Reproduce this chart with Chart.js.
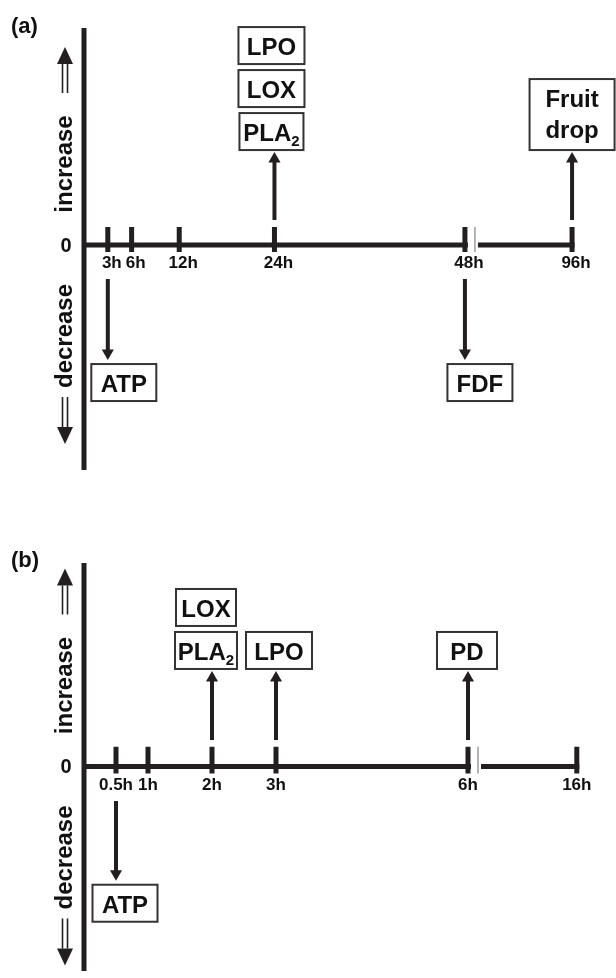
<!DOCTYPE html>
<html lang="en">
<head>
<meta charset="UTF-8">
<title>Time course of increases and decreases</title>
<script src="https://cdn.jsdelivr.net/npm/chart.js@4"></script>
<style>
    body {
        margin: 0;
        background: #fff;
        width: 616px;
        height: 978px;
        overflow: hidden;
        position: relative;
    }
    .panel {
        position: absolute;
        left: 0;
        width: 616px;
        height: 489px;
    }
    #panelA { top: 0; }
    #panelB { top: 489px; }
</style>
</head>
<body>
<div class="panel" id="panelA"><canvas id="chartA" width="616" height="489"></canvas></div>
<div class="panel" id="panelB"><canvas id="chartB" width="616" height="489"></canvas></div>

<script>
// ---- panel (a) ----
const ticksA = [3, 6, 12, 24, 48, 96];
const tickLabelsA = ['3h', '6h', '12h', '24h', '48h', '96h'];
const eventTimesA = [3, 24, 48, 96];
const eventDirA = [-1, 1, -1, 1];   // -1 = decrease, 1 = increase
const eventLabelsA = [['ATP'], ['PLA₂', 'LOX', 'LPO'], ['FDF'], ['Fruit\ndrop']];

// ---- panel (b) ----
const ticksB = [0.5, 1, 2, 3, 6, 16];
const tickLabelsB = ['0.5h', '1h', '2h', '3h', '6h', '16h'];
const eventTimesB = [0.5, 2, 3, 6];
const eventDirB = [-1, 1, 1, 1];
const eventLabelsB = [['ATP'], ['PLA₂', 'LOX'], ['LPO'], ['PD']];

// layout of each panel (axis break, arrow lengths, box placement)
const layoutA = {
    letter: '(a)', letterY: 27,
    breakAt: 48, afterBreak: 0.28125,
    xMax: 62.5, yMin: -1.037, yMax: 1, padTop: 28, padBottom: 19,
    tickLo: -0.032, tickHi: 0.083,
    upFrom: 0.115, upTo: 0.396, downFrom: 0.157, downTo: 0.498,
    labelDx: 4, labelDy: 18,
    boxShift: [16, -3, 15, 0],
    boxWidth: [[65], [64, 66, 66], [65], [85]]
};
const layoutB = {
    letter: '(b)', letterY: 72,
    breakAt: 6, afterBreak: 0.17,
    xMax: 7.75, yMin: -1.005, yMax: 1, padTop: 74, padBottom: 0,
    tickLo: -0.034, tickHi: 0.097,
    upFrom: 0.13, upTo: 0.435, downFrom: 0.169, downTo: 0.527,
    labelDx: 0, labelDy: 19,
    boxShift: [9, -6, 3, -1],
    boxWidth: [[65], [62, 60], [66], [60]]
};

const ink = '#231f20';
const fontFamily = '"Liberation Sans", Arial, Helvetica, sans-serif';

function axisPos(h, L) {
    return h <= L.breakAt ? h : L.breakAt + (h - L.breakAt) * L.afterBreak;
}

function drawLabelText(ctx, text, cx, baseline) {
    if (text.includes('₂')) {
        const main = text.replace('₂', '');
        ctx.font = 'bold 24px ' + fontFamily;
        const mw = ctx.measureText(main).width;
        ctx.font = 'bold 15px ' + fontFamily;
        const sw = ctx.measureText('2').width;
        const x = cx - (mw + sw) / 2;
        ctx.textAlign = 'left';
        ctx.font = 'bold 24px ' + fontFamily;
        ctx.fillText(main, x, baseline);
        ctx.font = 'bold 15px ' + fontFamily;
        ctx.fillText('2', x + mw, baseline + 5);
    } else {
        ctx.font = 'bold 24px ' + fontFamily;
        ctx.textAlign = 'center';
        ctx.fillText(text, cx, baseline);
    }
}

function drawBox(ctx, cx, top, w, label) {
    const lines = label.split('\n');
    const h = 37 + 34 * (lines.length - 1);
    ctx.fillStyle = '#fff';
    ctx.fillRect(cx - w / 2, top, w, h);
    ctx.strokeStyle = '#333';
    ctx.lineWidth = 2;
    ctx.strokeRect(cx - w / 2, top, w, h);
    ctx.fillStyle = '#111';
    ctx.textBaseline = 'alphabetic';
    lines.forEach((ln, k) => drawLabelText(ctx, ln, cx, top + 28 + 31 * k));
    return h;
}

function doubleArrow(ctx, x, shaftEnd, headBase, tip) {
    ctx.strokeStyle = ink;
    ctx.lineWidth = 1.6;
    [-2.5, 2.5].forEach(dx => {
        ctx.beginPath();
        ctx.moveTo(x + dx, shaftEnd);
        ctx.lineTo(x + dx, headBase);
        ctx.stroke();
    });
    ctx.fillStyle = ink;
    ctx.beginPath();
    ctx.moveTo(x - 8, headBase);
    ctx.lineTo(x + 8, headBase);
    ctx.lineTo(x, tip);
    ctx.closePath();
    ctx.fill();
}

function buildPanel(canvasId, ticks, tickLabels, times, dirs, labels, L) {
    const unit = 496 / L.xMax; // pixels per axis unit
    const datasets = [];
    const lineBase = { pointRadius: 0, fill: false, clip: false, borderCapStyle: 'butt', spanGaps: false };

    // vertical axis
    datasets.push(Object.assign({}, lineBase, {
        data: [{ x: 0, y: L.yMin }, { x: 0, y: L.yMax }],
        borderColor: ink, borderWidth: 5
    }));

    // horizontal time axis with a break
    const bx = axisPos(L.breakAt, L);
    const lastX = axisPos(ticks[ticks.length - 1], L);
    datasets.push(Object.assign({}, lineBase, {
        data: [
            { x: 0, y: 0 }, { x: bx + 3 / unit, y: 0 },
            { x: bx + 8 / unit, y: null },
            { x: bx + 13 / unit, y: 0 }, { x: lastX + 2.5 / unit, y: 0 }
        ],
        borderColor: ink, borderWidth: 5
    }));
    datasets.push(Object.assign({}, lineBase, {
        data: [{ x: bx + 10 / unit, y: L.tickLo }, { x: bx + 10 / unit, y: L.tickHi }],
        borderColor: '#9a9a9a', borderWidth: 1.5
    }));

    // tick marks
    const tickPts = [];
    ticks.forEach(t => {
        const p = axisPos(t, L);
        tickPts.push({ x: p, y: L.tickLo }, { x: p, y: L.tickHi }, { x: p, y: null });
    });
    datasets.push(Object.assign({}, lineBase, { data: tickPts, borderColor: ink, borderWidth: 5 }));

    // arrows for each event
    times.forEach((t, i) => {
        const p = axisPos(t, L);
        const up = dirs[i] > 0;
        datasets.push(Object.assign({}, lineBase, {
            data: [
                { x: p, y: up ? L.upFrom : -L.downFrom },
                { x: p, y: up ? L.upTo : -L.downTo }
            ],
            borderColor: ink, borderWidth: 4,
            pointRadius: [0, 7], pointStyle: 'triangle',
            pointRotation: up ? 0 : 180,
            pointBackgroundColor: ink, pointBorderWidth: 0
        }));
    });

    const decor = {
        id: 'decor',
        afterDatasetsDraw(chart) {
            const ctx = chart.ctx;
            const xs = chart.scales.x, ys = chart.scales.y;
            const y0 = ys.getPixelForValue(0);
            ctx.save();

            // panel letter
            ctx.fillStyle = '#111';
            ctx.font = 'bold 22px ' + fontFamily;
            ctx.textAlign = 'left';
            ctx.textBaseline = 'middle';
            ctx.fillText(L.letter, 11, L.letterY);

            // zero label
            ctx.font = 'bold 20px ' + fontFamily;
            ctx.textAlign = 'center';
            ctx.fillText('0', 66, y0 + 1);

            // tick labels
            ctx.font = 'bold 17px ' + fontFamily;
            ticks.forEach((t, i) => {
                ctx.fillText(tickLabels[i], xs.getPixelForValue(axisPos(t, L)) + L.labelDx, y0 + L.labelDy);
            });

            // increase / decrease side labels
            ctx.font = 'bold 24px ' + fontFamily;
            ctx.textBaseline = 'alphabetic';
            [['increase', -81], ['decrease', 91]].forEach(([txt, dy]) => {
                ctx.save();
                ctx.translate(72, y0 + dy);
                ctx.rotate(-Math.PI / 2);
                ctx.textAlign = 'center';
                ctx.fillText(txt, 0, 0);
                ctx.restore();
            });
            doubleArrow(ctx, 65, y0 - 152, y0 - 181, y0 - 198);
            doubleArrow(ctx, 65, y0 + 152, y0 + 182, y0 + 199);

            // boxes at the arrow tips
            times.forEach((t, i) => {
                const up = dirs[i] > 0;
                const cx = xs.getPixelForValue(axisPos(t, L)) + L.boxShift[i];
                const tip = up ? ys.getPixelForValue(L.upTo) - 7 : ys.getPixelForValue(-L.downTo) + 7;
                if (up) {
                    let bottom = tip - 2;
                    labels[i].forEach((lab, k) => {
                        const h = 37 + 34 * (lab.split('\n').length - 1);
                        drawBox(ctx, cx, bottom - h, L.boxWidth[i][k], lab);
                        bottom -= h + 6;
                    });
                } else {
                    let top = tip + 4;
                    labels[i].forEach((lab, k) => {
                        top += drawBox(ctx, cx, top, L.boxWidth[i][k], lab) + 6;
                    });
                }
            });
            ctx.restore();
        }
    };

    return new Chart(document.getElementById(canvasId), {
        type: 'line',
        data: { datasets: datasets },
        options: {
            responsive: false,
            animation: false,
            events: [],
            layout: { padding: { left: 84, right: 36, top: L.padTop, bottom: L.padBottom } },
            scales: {
                x: { type: 'linear', min: 0, max: L.xMax, display: false },
                y: { type: 'linear', min: L.yMin, max: L.yMax, display: false }
            },
            plugins: { legend: { display: false }, tooltip: { enabled: false } }
        },
        plugins: [decor]
    });
}

buildPanel('chartA', ticksA, tickLabelsA, eventTimesA, eventDirA, eventLabelsA, layoutA);
buildPanel('chartB', ticksB, tickLabelsB, eventTimesB, eventDirB, eventLabelsB, layoutB);
</script>
</body>
</html>
